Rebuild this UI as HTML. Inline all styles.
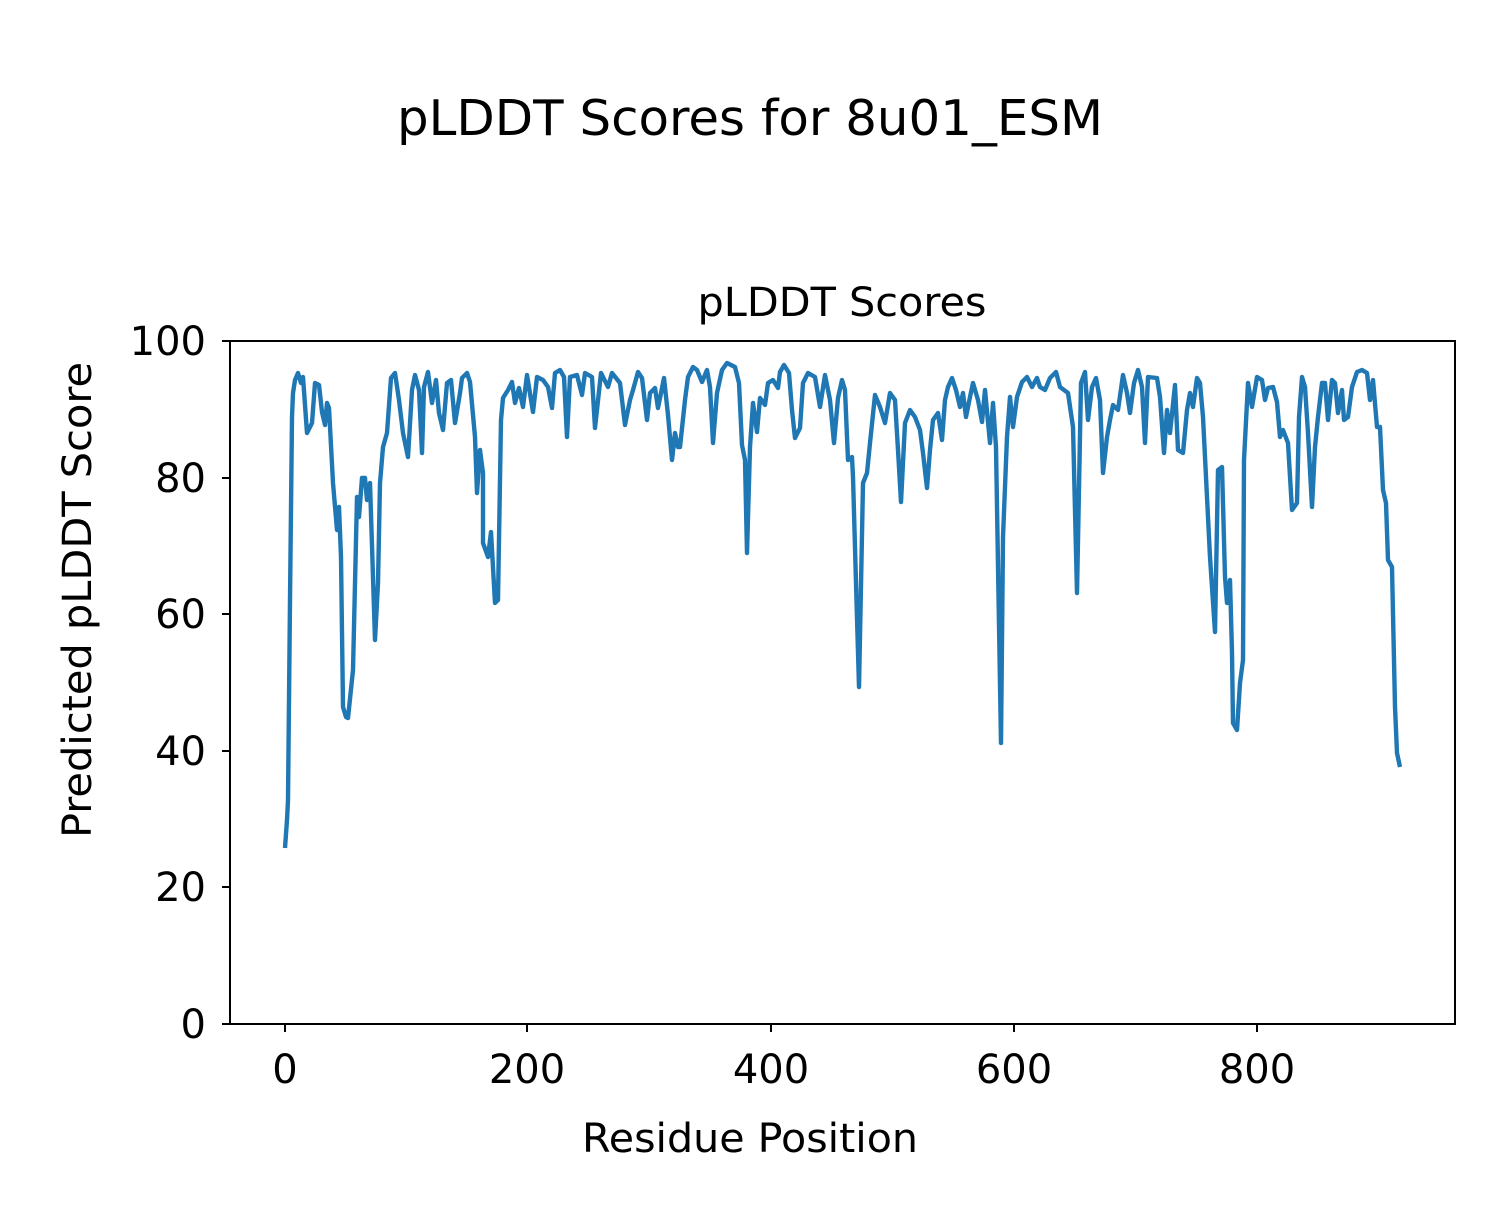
<!DOCTYPE html>
<html><head><meta charset="utf-8"><style>body{margin:0;background:#fff}</style></head>
<body>
<svg width="1500" height="1200" viewBox="0 0 1500 1200" xmlns="http://www.w3.org/2000/svg" font-family="'DejaVu Sans','Liberation Sans',sans-serif">
<rect width="1500" height="1200" fill="#fff"/>
<text x="750" y="135" font-size="49" text-anchor="middle" textLength="706" lengthAdjust="spacingAndGlyphs">pLDDT Scores for 8u01_ESM</text>
<text x="842" y="316" font-size="40" text-anchor="middle" textLength="289" lengthAdjust="spacingAndGlyphs">pLDDT Scores</text>
<polyline fill="none" stroke="#1f77b4" stroke-width="4.4" stroke-linejoin="round" points="
285,848 287,820 288,800 290,600 292,417 293,393 295,380 298,373 301,383 303,377 307,433 312,423 315,383 319,385 322,412 325,425 327,403 329,408 333,483 337,530 339,507 341,557 343,707 346,717 348,718 353,670 357,497 359,517 362,478 365,478 367,500 370,483 375,640 378,583 380,483 383,447 387,433 391,378 395,373 399,400 403,433 408,457 412,390 415,375 419,390 422,453 424,387 428,372 432,403 436,380 439,413 443,430 447,383 451,380 455,423 460,393 462,378 467,373 470,382 475,437 477,493 480,450 483,473 483,543 488,557 491,532 495,603 498,600 501,420 503,398 508,390 512,382 515,403 519,388 523,407 527,375 533,412 537,377 543,380 548,387 552,408 555,373 560,370 564,377 567,437 570,377 577,375 582,395 585,373 592,377 595,428 601,373 608,387 612,373 620,383 625,425 630,400 633,390 638,372 642,378 647,420 650,393 655,388 658,408 664,378 668,415 672,460 675,433 678,447
680,447 685,400 688,377 693,367 697,370 702,382 707,370 710,387 713,443 717,393 722,370 727,363 735,367 739,383 742,445 745,460 747,553 750,447 753,403 757,432 760,398 765,405 768,383 773,380 778,388 780,372 784,365 789,373 792,410 795,438 800,428 803,383 808,373 815,377 820,407 825,375 830,400 834,443 838,398 842,380 845,390 848,460 852,457 853,477 856,583 859,687 863,483 867,473 870,443 875,395 880,407 885,423 890,393 895,400 898,450 901,502 905,423 910,410 915,417 920,430 923,453 927,488 930,450 933,420 938,413 942,440 945,400 948,387 952,378 956,390 960,407 963,393 966,417 970,397 973,383 978,400 982,422 985,390 990,443 993,403 996,447 1001,743 1003,537 1007,437 1010,397 1013,427 1017,397 1022,382 1027,377 1032,387 1037,378 1040,387 1045,390 1050,378 1056,372 1060,387 1068,393 1073,427 1077,593 1081,383 1085,372 1088,420 1092,387 1096,378 1100,400 1103,473 1107,437 1110,420 1113,405 1118,410 1123,375 1127,393 1130,413 1134,383 1138,370 1142,387 1145,443 1148,377 1157,378 1160,397 1164,453 1167,410 1170,433 1175,385 1178,450 1183,453 1187,410 1190,393 1193,407 1197,378 1200,383 1203,417 1207,497 1210,557 1215,632 1218,470 1222,467 1225,577 1227,603 1230,580 1232,653 1233,723 1237,730 1240,683 1243,660 1244,460 1248,383 1252,407 1257,377 1262,380 1265,400 1268,388 1273,387 1277,402 1280,437 1283,430 1288,443 1292,510 1297,503 1299,417 1302,377 1305,387 1308,433 1312,507 1315,447 1318,417 1322,383 1325,383 1328,420 1332,380 1335,383 1338,413 1342,390 1344,420 1348,417 1352,387 1357,372 1362,370 1367,373 1370,400 1373,380 1377,427 1380,427 1383,490 1386,503 1388,560 1392,567 1395,707 1397,753 1400,767"/>
<rect x="230" y="341" width="1225" height="683" fill="none" stroke="#000" stroke-width="2"/>
<g stroke="#000" stroke-width="2">
<line x1="285" y1="1024" x2="285" y2="1032"/><line x1="527" y1="1024" x2="527" y2="1032"/><line x1="771" y1="1024" x2="771" y2="1032"/><line x1="1014" y1="1024" x2="1014" y2="1032"/><line x1="1257" y1="1024" x2="1257" y2="1032"/>
<line x1="222" y1="1024" x2="230" y2="1024"/><line x1="222" y1="887" x2="230" y2="887"/><line x1="222" y1="751" x2="230" y2="751"/><line x1="222" y1="614" x2="230" y2="614"/><line x1="222" y1="478" x2="230" y2="478"/><line x1="222" y1="341" x2="230" y2="341"/>
</g>
<g font-size="40" text-anchor="middle">
<text x="285" y="1083">0</text><text x="527" y="1083">200</text><text x="771" y="1083">400</text><text x="1014" y="1083">600</text><text x="1257" y="1083">800</text>
</g>
<g font-size="40" text-anchor="end">
<text x="206" y="1038">0</text><text x="206" y="901">20</text><text x="206" y="765">40</text><text x="206" y="628">60</text><text x="206" y="492">80</text><text x="206" y="355">100</text>
</g>
<text x="750" y="1152" font-size="40" text-anchor="middle" textLength="336" lengthAdjust="spacingAndGlyphs">Residue Position</text>
<text transform="translate(91,600) rotate(-90)" font-size="40" text-anchor="middle" textLength="476" lengthAdjust="spacingAndGlyphs">Predicted pLDDT Score</text>
</svg>
</body></html>
